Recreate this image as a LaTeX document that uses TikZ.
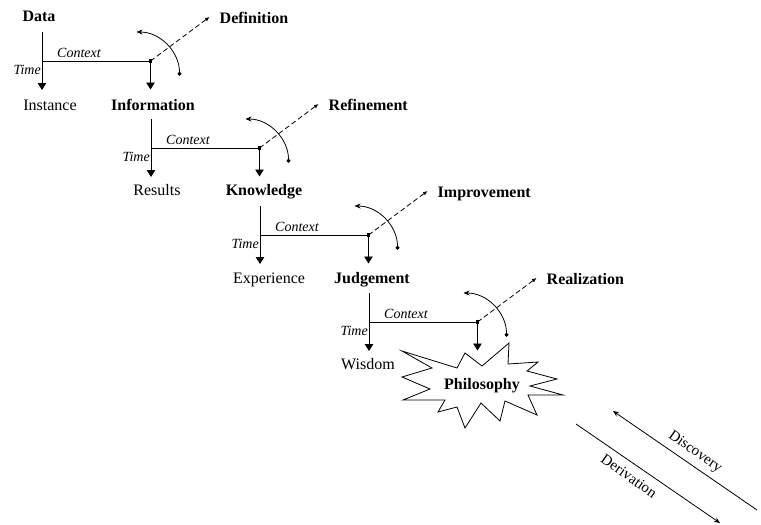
\documentclass[tikz,border=0pt]{standalone}
\usepackage{fontspec}
\setmainfont{Liberation Serif}
\usetikzlibrary{arrows.meta}
\tikzset{
  lbl/.style={font=\fontsize{16}{18}\selectfont, inner sep=0pt, text height=11pt, text depth=3.5pt},
  blbl/.style={lbl, font=\fontsize{16}{18}\selectfont\bfseries},
  ctx/.style={font=\fontsize{14}{16}\selectfont\itshape, inner sep=0pt},
  ln/.style={line width=0.8pt},
  flow/.style={ln, -{Triangle[length=7pt,width=8.5pt]}},
  act/.style={ln, dash pattern=on 5pt off 3pt, -{Latex[length=4.5pt,width=4pt]}},
  turn/.style={ln, {Diamond[length=4.5pt,width=4pt]}-{Stealth[length=6pt,width=5pt]}},
  jdot/.style={fill, minimum size=3.2pt, inner sep=0pt},
  slim/.style={ln, -{Stealth[length=6pt,width=5pt]}},
  slbl/.style={font=\fontsize{15}{17}\selectfont, inner sep=0pt, rotate=-35},
}
\begin{document}
\begin{tikzpicture}[x=1pt,y=-1pt]
\useasboundingbox (0,0) rectangle (761,525);

% chain labels
\node[blbl] (Data) at (39,17.5) {Data};
\node[blbl] (Information) at (153,107) {Information};
\node[blbl] (Knowledge) at (264,192) {Knowledge};
\node[blbl] (Judgement) at (372,279.5) {Judgement};
\node[lbl] (Instance) at (50,107) {Instance};
\node[lbl] (Results) at (157,192) {Results};
\node[lbl] (Experience) at (269,279.5) {Experience};
\node[lbl] (Wisdom) at (368,366) {Wisdom};

% blocks
\foreach \k/\act in {0/Definition,1/Refinement,2/Improvement,3/Realization} {
  \pgfmathsetmacro\ox{42+109*\k}
  \pgfmathsetmacro\oy{61+87*\k}
  \coordinate (O\k) at (\ox,\oy);
  \coordinate (T\k) at (\ox,\oy-29);
  \coordinate (LT\k) at (\ox,\oy+29);
  \coordinate (R\k) at (\ox+108.5,\oy);
  \coordinate (RT\k) at (\ox+108.5,\oy+28.5);
  \coordinate (D\k) at (\ox+108.5+59,\oy-44);
  \coordinate (AS\k) at (\ox+108.5+29,\oy+15);
  \coordinate (AE\k) at (\ox+108.5-14,\oy-29);
  \node[ctx] (C\k) at (\ox+37,\oy-8) {Context};
  \node[ctx, anchor=east] (Tm\k) at (\ox-1,\oy+9) {Time};
  \node[blbl, anchor=west] (A\k) at (\ox+108.5+59+10,\oy-44+3) {\act};
  \draw[ln] (T\k) -- (O\k) -- (R\k);
  \draw[flow] (O\k) -- (LT\k);
  \draw[flow] (R\k) -- (RT\k);
  \draw[act] (R\k) -- (D\k);
  \draw[turn] (AS\k) .. controls +(0,-24) and +(24,0) .. (AE\k);
  \node[jdot] (J\k) at (R\k) {};
}

% starburst
\draw[ln, fill=white] (402,351) -- (457,368) -- (465,353) -- (482,366) -- (509,343)
  -- (508,364) -- (538,362) -- (527,371) -- (557,379) -- (530,386) -- (563,395)
  -- (528,395) -- (537,415) -- (505,401) -- (500,421) -- (481,403) -- (465,428)
  -- (457,407) -- (438,412) -- (445,400) -- (403,400) -- (430,389) -- (402,377)
  -- (432,368) -- cycle;
\node[blbl] (Philosophy) at (482,386) {Philosophy};

% derivation / discovery
\coordinate (dv1) at (576,424);
\coordinate (dv2) at (720,523);
\coordinate (dc1) at (757,510);
\coordinate (dc2) at (613,411);
\draw[slim] (dv1) -- (dv2);
\draw[slim] (dc1) -- (dc2);
\node[slbl] (Discovery) at (695,452) {Discovery};
\node[slbl] (Derivation) at (629,476) {Derivation};
\end{tikzpicture}
\end{document}
